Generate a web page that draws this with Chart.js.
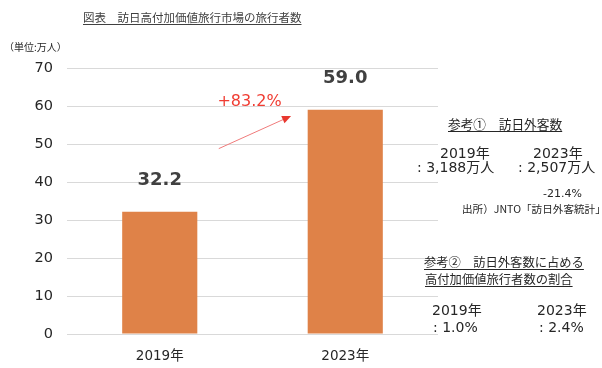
<!DOCTYPE html>
<html lang="ja">
<head>
<meta charset="utf-8">
<script src="https://cdn.jsdelivr.net/npm/chart.js@4"></script>
<style>
  html, body { margin: 0; padding: 0; background: #fff; }
  #wrap { position: relative; width: 602px; height: 368px; overflow: hidden; }
  canvas { position: absolute; left: 0; top: 0; }
  .t { position: absolute; white-space: nowrap; color: #262626; font-family: 'DejaVu Sans', 'Noto Sans CJK JP', sans-serif; line-height: 1; }
  .jp { font-family: 'Noto Sans CJK JP', sans-serif; }
  .u { text-decoration: underline; text-underline-offset: 2px; }
</style>
</head>
<body>
<div id="wrap">
  <canvas id="chart" width="602" height="368"></canvas>
  <div class="t jp u" style="left:83px; top:12px; font-size:11.5px; color:#404040;">図表　訪日高付加価値旅行市場の旅行者数</div>
  <div class="t jp" style="left:4px; top:42px; font-size:10px;">（単位:万人）</div>

  <div class="t jp u" style="left:448px; top:118px; font-size:12.7px;">参考①　訪日外客数</div>
  <div class="t" style="left:440px; top:146px; font-size:14px; width:46px; text-align:center;">2019年</div>
  <div class="t" style="left:417px; top:160px; font-size:14px;">: 3,188万人</div>
  <div class="t" style="left:533px; top:146px; font-size:14px; width:46px; text-align:center;">2023年</div>
  <div class="t" style="left:518px; top:160px; font-size:14px;">: 2,507万人</div>
  <div class="t" style="left:543px; top:188px; font-size:11px;">-21.4%</div>
  <div class="t jp" style="left:462px; top:204px; font-size:10.6px;">出所）JNTO「訪日外客統計」</div>

  <div class="t jp u" style="left:424px; top:256px; font-size:12.3px;">参考②　訪日外客数に占める</div>
  <div class="t jp u" style="left:425px; top:273px; font-size:12.3px;">高付加価値旅行者数の割合</div>
  <div class="t" style="left:432px; top:303px; font-size:14px;">2019年</div>
  <div class="t" style="left:433px; top:320px; font-size:14px;">: 1.0%</div>
  <div class="t" style="left:537px; top:303px; font-size:14px;">2023年</div>
  <div class="t" style="left:539px; top:320px; font-size:14px;">: 2.4%</div>
</div>
<script>
// データ
const years = ["2019年", "2023年"];
const travelers = [32.2, 59.0];
const yTicks = [0, 10, 20, 30, 40, 50, 60, 70];
const growthLabel = "+83.2%";

const numFont = "'DejaVu Sans', 'Noto Sans CJK JP', sans-serif";

// 棒の上に数値、2019→2023 の矢印
const labelPlugin = {
  id: "barLabels",
  afterDatasetsDraw(chart) {
    const ctx = chart.ctx;
    const bars = chart.getDatasetMeta(0).data;
    ctx.save();
    ctx.fillStyle = "#404040";
    ctx.font = "bold 18px " + numFont;
    ctx.textAlign = "center";
    ctx.textBaseline = "middle";
    bars.forEach((bar, i) => {
      ctx.fillText(travelers[i].toFixed(1), bar.x, bar.y - 31);
    });

    // 矢印
    const b0 = bars[0], b1 = bars[1];
    const x0 = b0.x + 59, y0 = b0.y - 63;
    const x1 = b1.x - 56, y1 = b1.y + 7;
    ctx.strokeStyle = "#f07b7b";
    ctx.lineWidth = 1;
    ctx.beginPath();
    ctx.moveTo(x0, y0);
    ctx.lineTo(x1, y1);
    ctx.stroke();
    const ang = Math.atan2(y1 - y0, x1 - x0);
    ctx.fillStyle = "#e8382f";
    ctx.beginPath();
    ctx.moveTo(x1 + 2 * Math.cos(ang), y1 + 2 * Math.sin(ang));
    ctx.lineTo(x1 - 7 * Math.cos(ang) + 4 * Math.sin(ang), y1 - 7 * Math.sin(ang) - 4 * Math.cos(ang));
    ctx.lineTo(x1 - 7 * Math.cos(ang) - 4 * Math.sin(ang), y1 - 7 * Math.sin(ang) + 4 * Math.cos(ang));
    ctx.closePath();
    ctx.fill();

    ctx.fillStyle = "#f03c32";
    ctx.font = "16px " + numFont;
    ctx.fillText(growthLabel, (b0.x + b1.x) / 2 - 3, b1.y - 8);
    ctx.restore();
  }
};

new Chart(document.getElementById("chart"), {
  type: "bar",
  data: {
    labels: years,
    datasets: [{
      data: travelers,
      backgroundColor: "#df8248",
      borderWidth: 0,
      barPercentage: 0.405,
      categoryPercentage: 1.0
    }]
  },
  options: {
    responsive: false,
    animation: false,
    devicePixelRatio: 1,
    layout: { padding: { top: 68, right: 164, bottom: 0, left: 0 } },
    plugins: { legend: { display: false }, tooltip: { enabled: false } },
    scales: {
      x: {
        grid: { display: false, drawTicks: false },
        border: { display: false },
        ticks: { color: "#262626", font: { family: numFont, size: 13.5 }, padding: 14 },
        afterFit: (s) => { s.height = 34; }
      },
      y: {
        min: 0,
        max: 70,
        afterBuildTicks: (s) => { s.ticks = yTicks.map(v => ({ value: v })); },
        grid: { color: "#d9d9d9", drawTicks: false },
        border: { display: false },
        ticks: { color: "#262626", font: { family: numFont, size: 14.5 }, padding: 14 },
        afterFit: (s) => { s.width = 67; }
      }
    }
  },
  plugins: [labelPlugin]
});
</script>
</body>
</html>
